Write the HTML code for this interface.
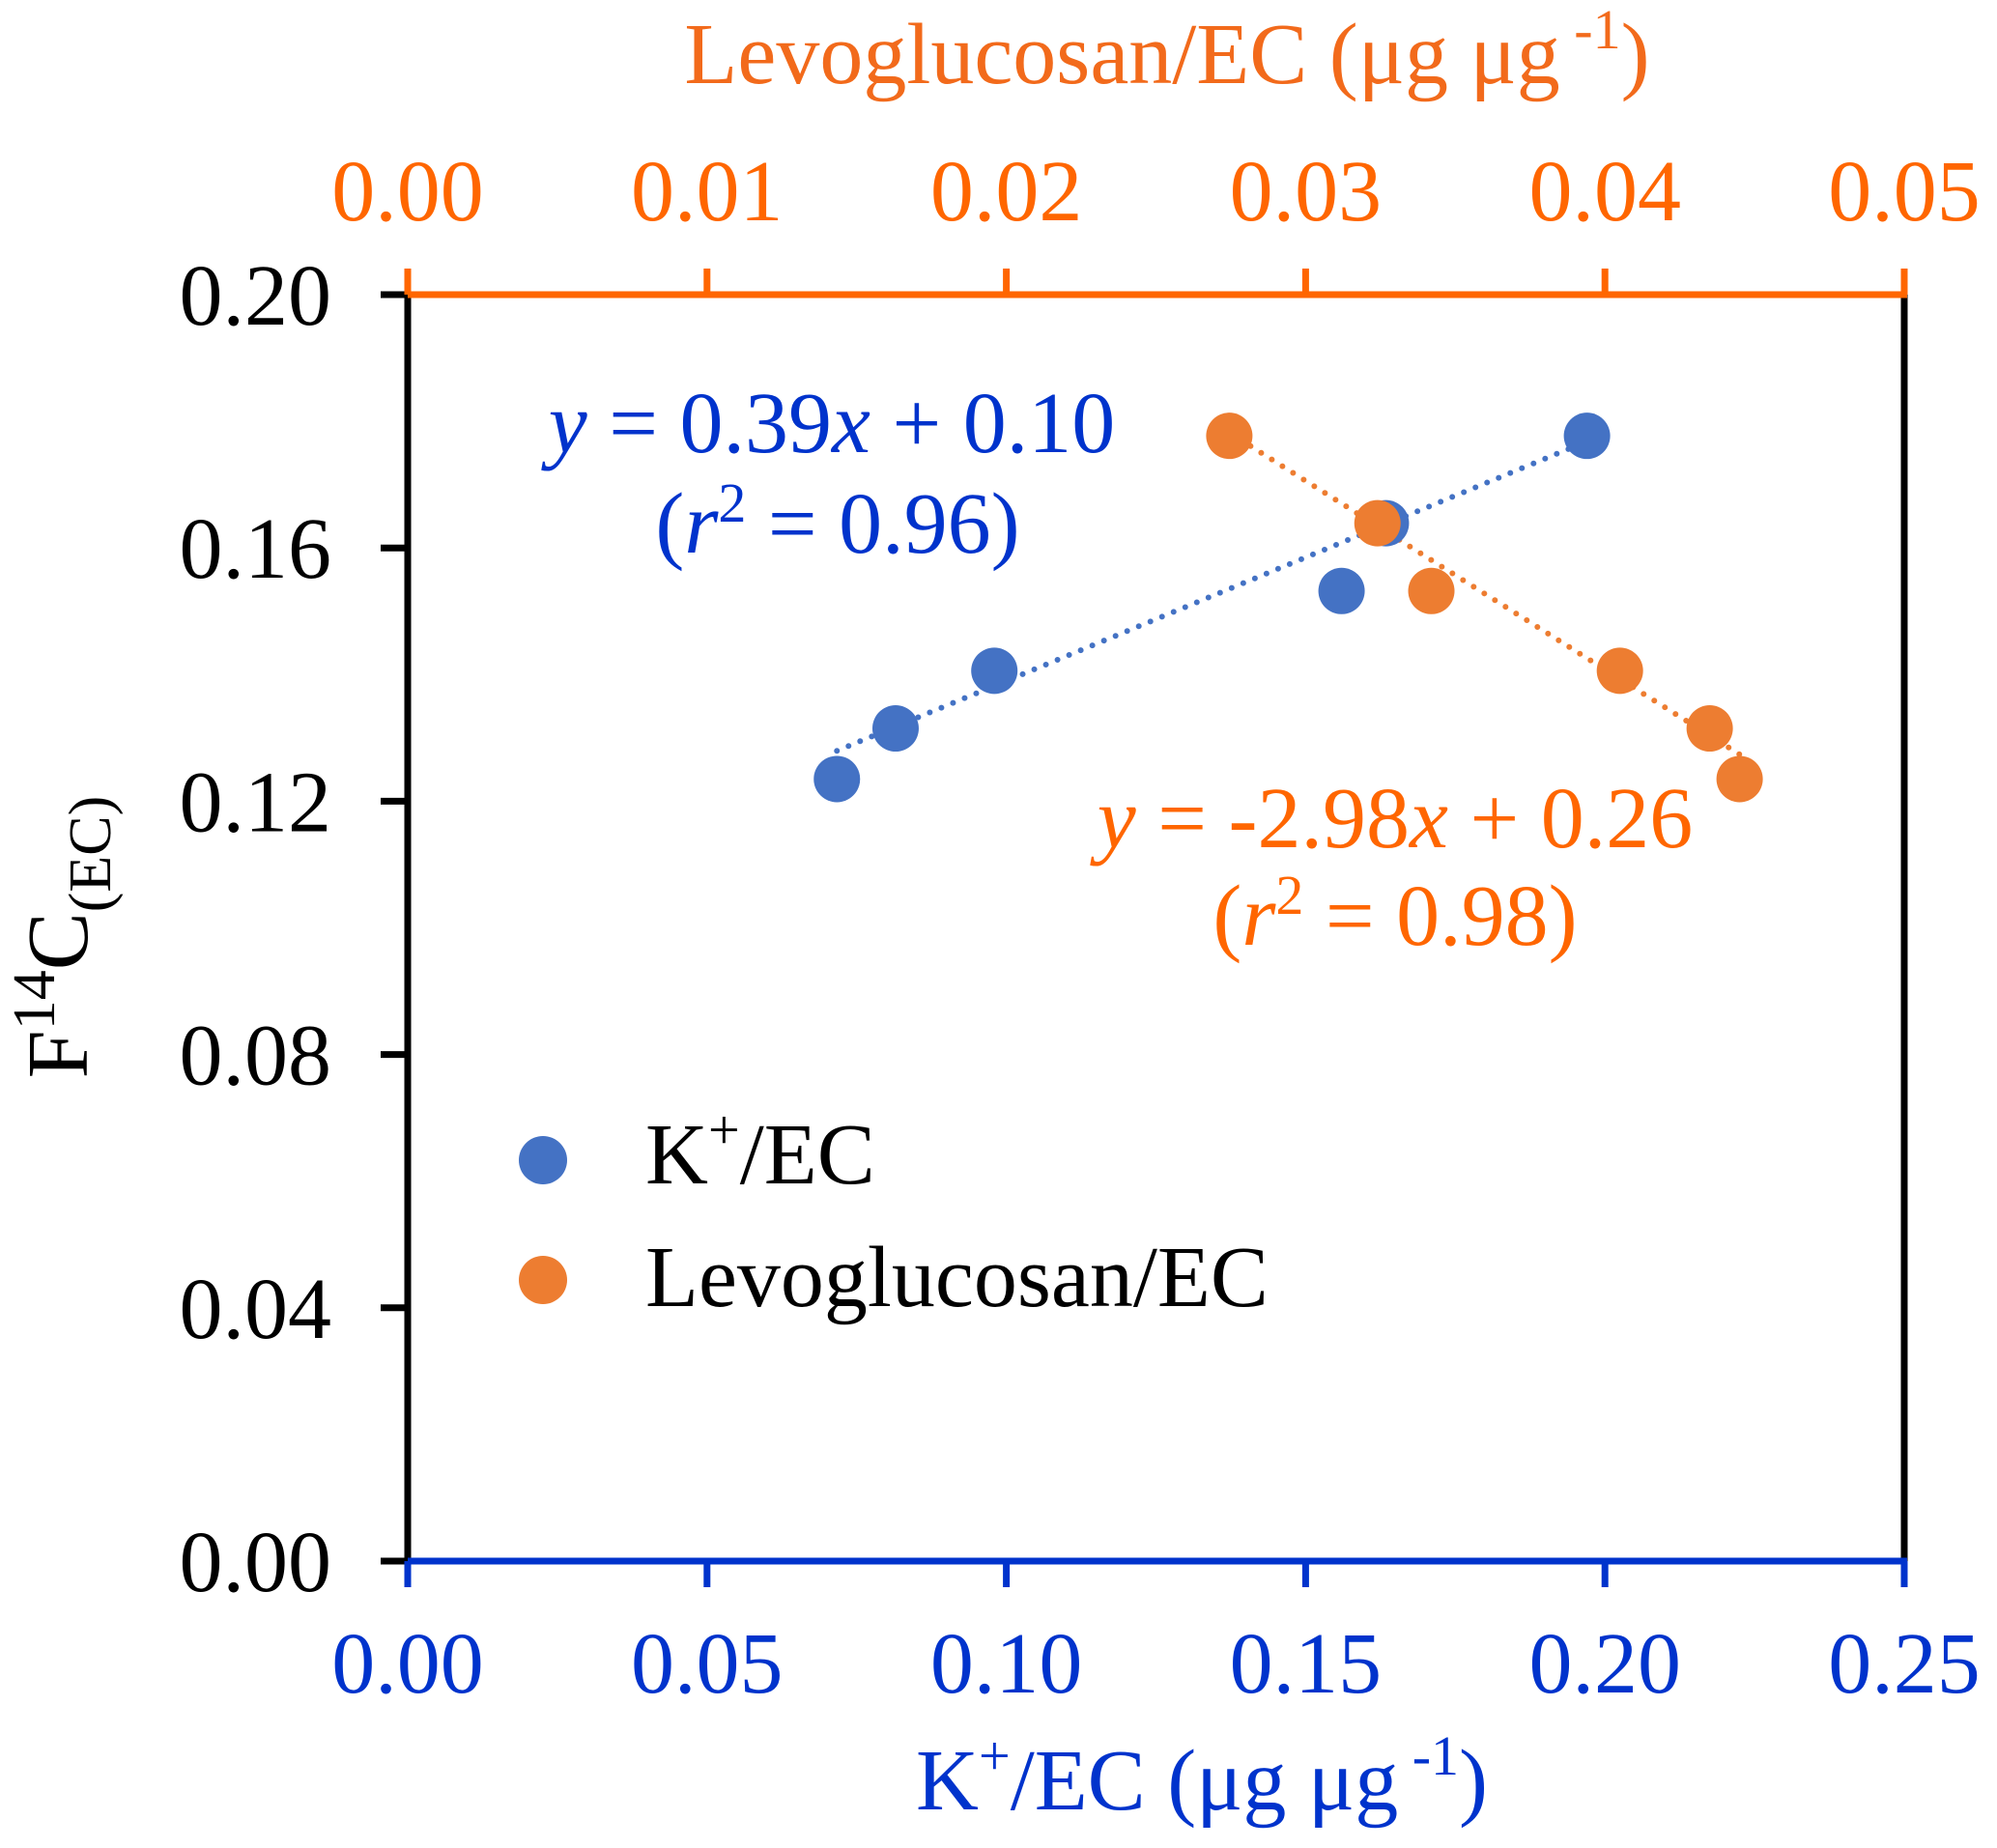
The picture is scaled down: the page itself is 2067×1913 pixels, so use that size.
<!DOCTYPE html>
<html><head><meta charset="utf-8"><style>
html,body{margin:0;padding:0;background:#fff;}
svg{display:block;font-family:"Liberation Serif",serif;}
</style></head><body>
<svg id="chart" width="2067" height="1913" viewBox="0 0 2067 1913">
<g id="axes"></g>
<g id="marks"></g>
<text x="861" y="468" text-anchor="middle" font-size="90" fill="#0033CC"><tspan font-style="italic">y</tspan> = 0.39<tspan font-style="italic">x</tspan> + 0.10</text>
<text x="867" y="572" text-anchor="middle" font-size="90" fill="#0033CC">(<tspan font-style="italic">r</tspan><tspan font-size="58" dy="-32">2</tspan><tspan dy="32"> = 0.96)</tspan></text>
<text x="1444" y="877" text-anchor="middle" font-size="90" fill="#FF6600"><tspan font-style="italic">y</tspan> = -2.98<tspan font-style="italic">x</tspan> + 0.26</text>
<text x="1444" y="978" text-anchor="middle" font-size="90" fill="#FF6600">(<tspan font-style="italic">r</tspan><tspan font-size="58" dy="-32">2</tspan><tspan dy="32"> = 0.98)</tspan></text>
<g>
<circle cx="562" cy="1201" r="25" fill="#4472C4"/>
<text x="668" y="1225" font-size="90" fill="#000">K<tspan font-size="58" dy="-36">+</tspan><tspan dy="36">/EC</tspan></text>
<circle cx="562" cy="1325" r="25" fill="#ED7D31"/>
<text x="668" y="1352" font-size="90" fill="#000">Levoglucosan/EC</text>
</g>
<text x="1208" y="86" text-anchor="middle" font-size="90" fill="#F26A1B">Levoglucosan/EC (μg μg<tspan font-size="58" dy="-36"> -1</tspan><tspan dy="36">)</tspan></text>
<text x="1244" y="1873" text-anchor="middle" font-size="90" fill="#0033CC">K<tspan font-size="58" dy="-36">+</tspan><tspan dy="36">/EC (μg μg</tspan><tspan font-size="58" dy="-36"> -1</tspan><tspan dy="36">)</tspan></text>
<text transform="translate(90,970) rotate(-90)" text-anchor="middle" font-size="90" fill="#000">F<tspan font-size="62" dy="-34">14</tspan><tspan dy="34">C</tspan><tspan font-size="62" dy="24">(EC)</tspan></text>
</svg>
<script>
const kX = [0.0717, 0.0815, 0.098, 0.156, 0.1634, 0.197];
const kY = [0.1235, 0.1315, 0.1406, 0.1532, 0.1639, 0.1777];
const levoX = [0.02745, 0.0324, 0.0342, 0.0405, 0.0435, 0.0445];
const levoY = [0.1777, 0.1639, 0.1532, 0.1406, 0.1315, 0.1235];
const kFit = [0.39, 0.10];
const levoFit = [-2.98, 0.26];
const yTicks = [0, 0.04, 0.08, 0.12, 0.16, 0.20];
const yTickLabels = ["0.00","0.04","0.08","0.12","0.16","0.20"];
const bTicks = [0, 0.05, 0.10, 0.15, 0.20, 0.25];
const bTickLabels = ["0.00","0.05","0.10","0.15","0.20","0.25"];
const tTicks = [0, 0.01, 0.02, 0.03, 0.04, 0.05];
const tTickLabels = ["0.00","0.01","0.02","0.03","0.04","0.05"];

const L=422,R=1971,T=305,B=1616;
const xB=v=>L+(v/0.25)*(R-L);
const xT=v=>L+(v/0.05)*(R-L);
const yS=v=>B-(v/0.2)*(B-T);
const NS="http://www.w3.org/2000/svg";
const axes=document.getElementById('axes'), marks=document.getElementById('marks');
function mk(tag,attrs,parent){const e=document.createElementNS(NS,tag);for(const k in attrs)e.setAttribute(k,attrs[k]);parent.appendChild(e);return e;}

let e;
e=mk('line',{x1:L,y1:T-3,x2:L,y2:B+3,stroke:'#000','stroke-width':7},axes);


e=mk('line',{x1:R,y1:T,x2:R,y2:B,stroke:'#000','stroke-width':7},axes);


e=mk('line',{x1:L,y1:T,x2:R+3,y2:T,stroke:'#FF6600','stroke-width':7},axes);


e=mk('line',{x1:L,y1:B,x2:R+3,y2:B,stroke:'#0033CC','stroke-width':7},axes);



yTicks.forEach((v,i)=>{
  let t=mk('line',{x1:394,y1:yS(v),x2:L,y2:yS(v),stroke:'#000','stroke-width':7},axes);
  
  
  let s=mk('text',{x:343,y:yS(v)+31,'text-anchor':'end','font-size':90,fill:'#000'},axes);
  s.textContent=yTickLabels[i];
  
  
});
bTicks.forEach((v,i)=>{
  let t=mk('line',{x1:xB(v),y1:B,x2:xB(v),y2:B+27,stroke:'#0033CC','stroke-width':7},axes);
  
  
  let s=mk('text',{x:xB(v),y:1752,'text-anchor':'middle','font-size':90,fill:'#0033CC'},axes);
  s.textContent=bTickLabels[i];
  
  
});
tTicks.forEach((v,i)=>{
  let t=mk('line',{x1:xT(v),y1:T,x2:xT(v),y2:T-27,stroke:'#FF6600','stroke-width':7},axes);
  
  
  let s=mk('text',{x:xT(v),y:228,'text-anchor':'middle','font-size':90,fill:'#FF6600'},axes);
  s.textContent=tTickLabels[i];
  
  
});

function trend(xs,fit,xf,color,name){
  const x0=Math.min(...xs),x1=Math.max(...xs);
  let l=mk('line',{x1:xf(x0),y1:yS(fit[0]*x0+fit[1]),x2:xf(x1),y2:yS(fit[0]*x1+fit[1]),stroke:color,'stroke-width':6,'stroke-linecap':'round','stroke-dasharray':'0 13'},marks);
  
  
}
trend(kX,kFit,xB,'#4472C4','k-trendline');
trend(levoX,levoFit,xT,'#ED7D31','levo-trendline');
kX.forEach((v,i)=>{
  let c=mk('circle',{cx:xB(v),cy:yS(kY[i]),r:24,fill:'#4472C4'},marks);
  
  
});
levoX.forEach((v,i)=>{
  let c=mk('circle',{cx:xT(v),cy:yS(levoY[i]),r:24,fill:'#ED7D31'},marks);
  
  
});
</script>
</body></html>
